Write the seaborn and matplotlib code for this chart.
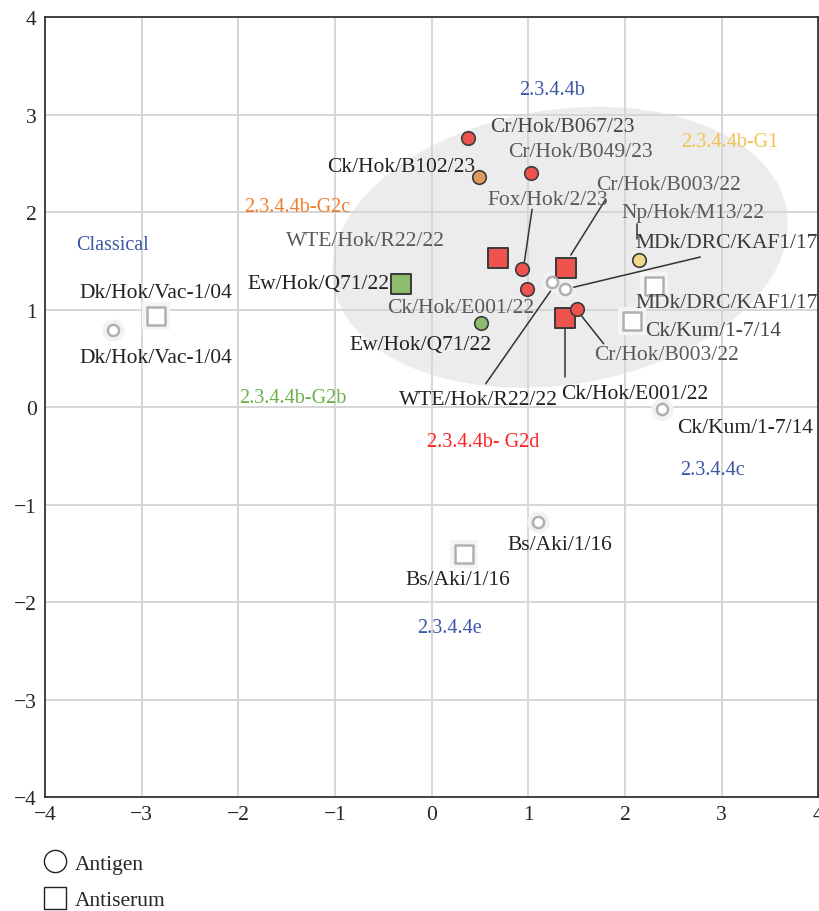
import numpy as np
import pandas as pd
import matplotlib
matplotlib.use("Agg")
import matplotlib.pyplot as plt
from matplotlib.patches import Ellipse
from matplotlib.lines import Line2D
import seaborn as sns

# antigens (circles)
antigen_names = ["Cr/Hok/B067/23", "Ck/Hok/B102/23", "Cr/Hok/B049/23", "Fox/Hok/2/23",
                 "Ck/Hok/E001/22", "Cr/Hok/B003/22", "Np/Hok/M13/22", "Ew/Hok/Q71/22",
                 "WTE/Hok/R22/22", "MDk/DRC/KAF1/17", "Dk/Hok/Vac-1/04", "Ck/Kum/1-7/14",
                 "Bs/Aki/1/16"]
antigen_x = [0.38, 0.49, 1.03, 0.94, 0.99, 1.50, 2.15, 0.51, 1.25, 1.38, -3.30, 2.38, 1.10]
antigen_y = [2.76, 2.36, 2.40, 1.42, 1.21, 1.01, 1.51, 0.86, 1.28, 1.21, 0.79, -0.02, -1.18]
antigen_group = ["G2d", "G2c", "G2d", "G2d", "G2d", "G2d", "G1", "G2b",
                 "ref", "ref", "ref", "ref", "ref"]

# antisera (squares)
serum_names = ["WTE/Hok/R22/22", "Cr/Hok/B003/22", "Ck/Hok/E001/22", "Ew/Hok/Q71/22",
               "Dk/Hok/Vac-1/04", "MDk/DRC/KAF1/17", "Ck/Kum/1-7/14", "Bs/Aki/1/16"]
serum_x = [0.69, 1.39, 1.38, -0.32, -2.85, 2.30, 2.07, 0.34]
serum_y = [1.53, 1.43, 0.91, 1.26, 0.93, 1.24, 0.88, -1.51]
serum_group = ["G2d", "G2d", "G2d", "G2b", "ref", "ref", "ref", "ref"]

fill = {"G2d": "#ef5350", "G2c": "#e0995c", "G1": "#f0d98a", "G2b": "#8dbd6c", "ref": "white"}
edge = {"G2d": "#3a3a3a", "G2c": "#3a3a3a", "G1": "#3a3a3a", "G2b": "#3a3a3a", "ref": "#b0b0b0"}

# strain labels: text, x, y, colour
strain_labels = [
    ("Cr/Hok/B067/23", 1.35, 2.88, "#444444"),
    ("Cr/Hok/B049/23", 1.54, 2.62, "#5a5a5a"),
    ("Ck/Hok/B102/23", -0.32, 2.47, "#222222"),
    ("Fox/Hok/2/23", 1.20, 2.13, "#5a5a5a"),
    ("Cr/Hok/B003/22", 2.45, 2.28, "#5a5a5a"),
    ("Np/Hok/M13/22", 2.70, 2.00, "#5a5a5a"),
    ("WTE/Hok/R22/22", -0.68, 1.71, "#5a5a5a"),
    ("MDk/DRC/KAF1/17", 3.05, 1.69, "#3a3a3a"),
    ("Ew/Hok/Q71/22", -1.17, 1.27, "#222222"),
    ("Dk/Hok/Vac-1/04", -2.85, 1.18, "#222222"),
    ("Ck/Hok/E001/22", 0.30, 1.02, "#5a5a5a"),
    ("MDk/DRC/KAF1/17", 3.05, 1.07, "#444444"),
    ("Ck/Kum/1-7/14", 2.91, 0.79, "#444444"),
    ("Dk/Hok/Vac-1/04", -2.85, 0.51, "#222222"),
    ("Ew/Hok/Q71/22", -0.12, 0.64, "#222222"),
    ("Cr/Hok/B003/22", 2.43, 0.54, "#5a5a5a"),
    ("WTE/Hok/R22/22", 0.48, 0.08, "#222222"),
    ("Ck/Hok/E001/22", 2.10, 0.14, "#222222"),
    ("Ck/Kum/1-7/14", 3.24, -0.21, "#222222"),
    ("Bs/Aki/1/16", 1.33, -1.41, "#222222"),
    ("Bs/Aki/1/16", 0.27, -1.77, "#222222"),
]

# clade labels
clade_labels = [
    ("2.3.4.4b", 1.25, 3.26, "#3b55a8"),
    ("2.3.4.4b-G1", 3.09, 2.73, "#f2c24e"),
    ("2.3.4.4b-G2c", -1.39, 2.06, "#f07d2c"),
    ("Classical", -3.30, 1.67, "#3b55a8"),
    ("2.3.4.4b-G2b", -1.44, 0.10, "#6cb04a"),
    ("2.3.4.4b- G2d", 0.53, -0.35, "#ff2222"),
    ("2.3.4.4c", 2.91, -0.64, "#3b55a8"),
    ("2.3.4.4e", 0.19, -2.26, "#3b55a8"),
]

# leader lines
leaders = [
    ((1.04, 2.03), (0.96, 1.49)),
    ((1.80, 2.13), (1.44, 1.56)),
    ((2.13, 1.88), (2.13, 1.72)),
    ((2.78, 1.54), (1.47, 1.23)),
    ((0.56, 0.24), (1.23, 1.19)),
    ((1.38, 0.82), (1.38, 0.31)),
    ((1.54, 0.95), (1.78, 0.65)),
]

antigens = pd.DataFrame({"name": antigen_names, "x": antigen_x, "y": antigen_y, "group": antigen_group})
sera = pd.DataFrame({"name": serum_names, "x": serum_x, "y": serum_y, "group": serum_group})

sns.set_style("white")
plt.rcParams["font.family"] = ["Liberation Serif", "DejaVu Serif"]

fig = plt.figure(figsize=(8.19, 9.12), dpi=100)
ax = fig.add_axes([0.055, 0.125, 0.944, 0.855])

ax.add_patch(Ellipse((1.33, 1.64), 4.75, 2.82, angle=9, facecolor="#ececec",
                     edgecolor="none", zorder=0))

# halos for reference strains
ref_a = antigens[antigens.group == "ref"]
ref_s = sera[sera.group == "ref"]
ax.scatter(ref_a.x, ref_a.y, s=260, color="#f2f2f2", zorder=1, linewidths=0)
ax.scatter(ref_s.x, ref_s.y, s=420, marker="s", color="#f5f5f5", zorder=1, linewidths=0)

for g, d in sera.groupby("group"):
    sns.scatterplot(data=d, x="x", y="y", marker="s", s=190 if g != "ref" else 170,
                    color=fill[g], edgecolor=edge[g], linewidth=1.4 if g != "ref" else 1.8,
                    ax=ax, zorder=3, legend=False)
for g, d in antigens.groupby("group"):
    sns.scatterplot(data=d, x="x", y="y", marker="o", s=95 if g != "ref" else 65,
                    color=fill[g], edgecolor=edge[g], linewidth=1.2 if g != "ref" else 1.8,
                    ax=ax, zorder=4, legend=False)

for (x0, y0), (x1, y1) in leaders:
    ax.plot([x0, x1], [y0, y1], color="#333333", lw=1.1, zorder=2)

for t, x, y, c in strain_labels:
    ax.text(x, y, t, color=c, fontsize=15.5, ha="center", va="center", zorder=5)
for t, x, y, c in clade_labels:
    ax.text(x, y, t, color=c, fontsize=14.5, ha="center", va="center", zorder=5)

ax.set_xlim(-4, 4)
ax.set_ylim(-4, 4)
ax.set_xticks(range(-4, 5))
ax.set_yticks(range(-4, 5))
ax.set_xticklabels([str(v).replace("-", "\u2212") for v in range(-4, 5)])
ax.set_yticklabels([str(v).replace("-", "\u2212") for v in range(-4, 5)])
ax.tick_params(labelsize=15.5, length=0, pad=6)
ax.grid(True, color="#d6d6d6", lw=1.4)
ax.set_axisbelow(True)
ax.set_xlabel("")
ax.set_ylabel("")
for s in ax.spines.values():
    s.set_color("#333333")
    s.set_linewidth(1.3)

handles = [
    Line2D([], [], marker="o", ls="", markersize=16, markerfacecolor="white",
           markeredgecolor="#222222", markeredgewidth=1.0),
    Line2D([], [], marker="s", ls="", markersize=16, markerfacecolor="white",
           markeredgecolor="#222222", markeredgewidth=1.0),
]
fig.legend(handles, ["Antigen", "Antiserum"], loc="upper left",
           bbox_to_anchor=(0.022, 0.084), frameon=False, fontsize=15.5,
           handletextpad=0.15, labelspacing=0.75, handlelength=1.6)

fig.savefig("out.png", dpi=100)
